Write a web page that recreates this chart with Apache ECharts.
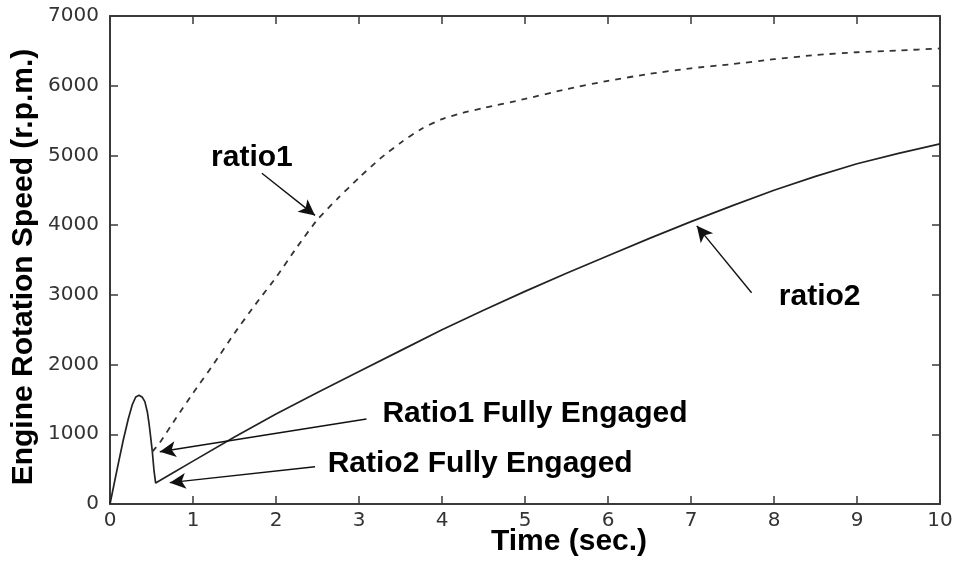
<!DOCTYPE html>
<html>
<head>
<meta charset="utf-8">
<script src="https://cdn.jsdelivr.net/npm/echarts@6/dist/echarts.min.js"></script>
<style>
  html, body { margin: 0; padding: 0; background: #fff; }
  #chart { width: 957px; height: 565px; }
</style>
</head>
<body>
<div id="chart"></div>
<script>
// Axis ranges
const xRange = [0, 10, 1];        // min, max, step (sec.)
const yRange = [0, 7000, 1000];   // min, max, step (r.p.m.)

// Launch phase shared by both ratios (engine flare before engagement)
const launchTime  = [0, 0.05, 0.10, 0.16, 0.22, 0.27, 0.31, 0.35, 0.39, 0.42, 0.45, 0.47, 0.49, 0.51];
const launchSpeed = [0, 290, 580, 918, 1220, 1430, 1535, 1560, 1530, 1468, 1320, 1158, 960, 750];

// ratio1 after full engagement (dashed)
const ratio1Time  = [0.51, 0.60, 0.80, 1.00, 1.25, 1.50, 1.75, 2.00, 2.25, 2.50, 2.75, 3.00, 3.25, 3.50, 3.75, 4.00, 4.25, 4.50, 5.00, 5.50, 6.00, 6.50, 7.00, 7.50, 8.00, 8.50, 9.00, 9.50, 10.00];
const ratio1Speed = [750, 880, 1240, 1590, 2010, 2450, 2860, 3250, 3680, 4080, 4390, 4680, 4950, 5180, 5380, 5520, 5610, 5680, 5810, 5950, 6070, 6170, 6250, 6310, 6380, 6440, 6480, 6505, 6535];

// ratio2 after full engagement (solid)
const ratio2Time  = [0.51, 0.53, 0.55, 0.75, 1.00, 1.50, 2.00, 2.50, 3.00, 3.50, 4.00, 4.50, 5.00, 5.50, 6.00, 6.50, 7.00, 7.50, 8.00, 8.50, 9.00, 9.50, 10.00];
const ratio2Speed = [750, 480, 300, 440, 615, 960, 1290, 1600, 1900, 2200, 2500, 2780, 3050, 3310, 3560, 3810, 4050, 4280, 4500, 4700, 4880, 5030, 5165];

// Callouts: text, text anchor [t, rpm], arrow tail [t, rpm], arrow tip [t, rpm]
const calloutText = ['ratio1', 'ratio2', 'Ratio1 Fully Engaged', 'Ratio2 Fully Engaged'];
const calloutAt   = [[1.71, 4960], [8.55, 2970], [5.12, 1291], [4.46, 581]];
const arrowFrom   = [[1.83, 4745], [7.73, 3030], [3.09, 1220], [2.47, 535]];
const arrowTo     = [[2.47, 4140], [7.07, 3990], [0.60, 750], [0.72, 306]];

const zip = (xs, ys) => xs.map((x, i) => [x, ys[i]]);

const ink = '#222';
const axisInk = '#3a3a3a';
const tickFont = { fontFamily: 'DejaVu Sans', fontSize: 20, color: '#333', formatter: v => String(v) };
const titleFont = 'bold 30px "Liberation Sans", Arial, sans-serif';

function valueAxis(range, opts) {
  return Object.assign({
    type: 'value',
    min: range[0], max: range[1], interval: range[2],
    splitLine: { show: false },
    axisLine: { show: true, onZero: false, lineStyle: { color: axisInk, width: 2 } },
    axisTick: { show: true, inside: true, length: 8, lineStyle: { color: axisInk, width: 1.5 } }
  }, opts);
}

const chart = echarts.init(document.getElementById('chart'), null, { renderer: 'canvas' });

chart.setOption({
  animation: false,
  backgroundColor: '#fff',
  grid: { left: 110, right: 17, top: 16, bottom: 61, containLabel: false, outerBoundsMode: 'none' },
  xAxis: [
    valueAxis(xRange, { position: 'bottom', axisLabel: Object.assign({ margin: 7 }, tickFont) }),
    valueAxis(xRange, { position: 'top', axisLabel: { show: false } })
  ],
  yAxis: [
    valueAxis(yRange, { position: 'left', axisLabel: Object.assign({ margin: 11 }, tickFont) }),
    valueAxis(yRange, { position: 'right', axisLabel: { show: false } })
  ],
  series: [
    {
      name: 'launch', type: 'line', showSymbol: false, symbol: 'none',
      data: zip(launchTime, launchSpeed),
      lineStyle: { color: ink, width: 1.7 }
    },
    {
      name: 'ratio1', type: 'line', showSymbol: false, symbol: 'none',
      data: zip(ratio1Time, ratio1Speed), smooth: 0.2,
      lineStyle: { color: '#333', width: 1.8, type: [6, 6] }
    },
    {
      name: 'ratio2', type: 'line', showSymbol: false, symbol: 'none',
      data: zip(ratio2Time, ratio2Speed),
      lineStyle: { color: ink, width: 1.7 },
      markLine: {
        silent: true,
        symbol: ['none', 'arrow'],
        symbolSize: [12, 16],
        label: { show: false },
        lineStyle: { color: '#111', width: 1.4, type: 'solid' },
        data: arrowFrom.map((p, i) => [{ coord: p }, { coord: arrowTo[i] }])
      },
      markPoint: {
        silent: true,
        symbol: 'circle',
        symbolSize: 1,
        itemStyle: { color: 'rgba(0,0,0,0)' },
        label: {
          show: true, position: 'inside', formatter: '{b}',
          color: '#000', fontFamily: '"Liberation Sans", Arial, sans-serif',
          fontWeight: 'bold', fontSize: 30
        },
        data: calloutText.map((t, i) => ({ name: t, coord: calloutAt[i] }))
      }
    }
  ],
  graphic: [
    {
      type: 'text', x: 569, y: 542,
      style: { text: 'Time (sec.)', font: titleFont, fill: '#000', textAlign: 'center', textVerticalAlign: 'middle' }
    },
    {
      type: 'text', x: 24, y: 267, rotation: Math.PI / 2,
      style: { text: 'Engine Rotation Speed (r.p.m.)', font: titleFont, fill: '#000', textAlign: 'center', textVerticalAlign: 'middle' }
    }
  ]
});
</script>
</body>
</html>
